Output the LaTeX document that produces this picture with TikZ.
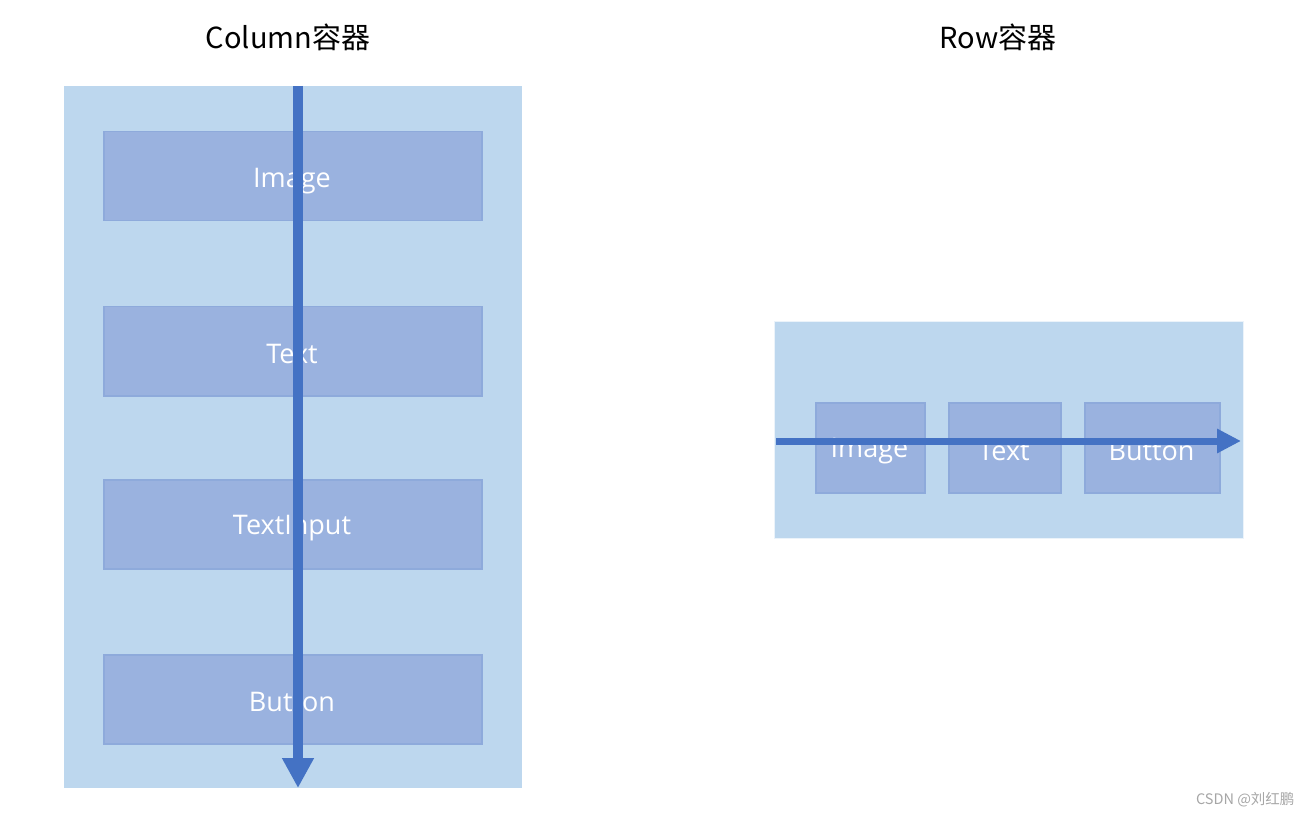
\documentclass[tikz,border=0pt]{standalone}
\usepackage{fontspec}
\setmainfont{Open Sans}
\newfontfamily\cjk{Noto Sans CJK SC}
\usetikzlibrary{arrows.meta}
\definecolor{outerfill}{HTML}{BDD7EE}
\definecolor{innerfill}{HTML}{9AB2DF}
\definecolor{innerline}{HTML}{8EAADB}
\definecolor{arrowc}{HTML}{4472C4}
\definecolor{wm}{HTML}{A6A6A6}
\tikzset{
  outerbox/.style={fill=outerfill, draw=none, anchor=north west, inner sep=0pt},
  itembox/.style={fill=innerfill, draw=innerline, line width=1.5pt, anchor=north west, inner sep=0pt},
  itemlabel/.style={text=white, font=\fontsize{27}{30}\selectfont, inner sep=0pt},
  title/.style={font=\cjk\fontsize{29}{33}\selectfont, text=black},
  flow/.style={draw=arrowc, line width=#1},
}
\begin{document}
\begin{tikzpicture}[x=1pt,y=-1pt]
\useasboundingbox (0,0) rectangle (1312,818);
% titles
\node[title] (tcol) at (288,37) {Column容器};
\node[title] (trow) at (998,37) {Row容器};
% Column container
\node[outerbox, minimum width=458pt, minimum height=702pt] (col) at (64,86) {};
\node[itembox, minimum width=378pt, minimum height=89pt] (c1) at (103,131) {};
\node[itembox, minimum width=378pt, minimum height=89pt] (c2) at (103,306) {};
\node[itembox, minimum width=378pt, minimum height=89pt] (c3) at (103,479) {};
\node[itembox, minimum width=378pt, minimum height=89pt] (c4) at (103,654) {};
\node[itemlabel] (l1) at (292,181) {Image};
\node[itemlabel] (l2) at (292,354) {Text};
\node[itemlabel] (l3) at (292,528) {TextInput};
\node[itemlabel] (l4) at (292,702) {Button};
\coordinate (cs) at (298,86);
\coordinate (ce) at (298,788);
\draw[flow=10pt, -{Triangle[width=30pt,length=30pt]}, arrowc] (cs) -- (ce);
% Row container
\node[outerbox, draw=white!70!outerfill, line width=1.2pt, minimum width=469pt, minimum height=217pt] (row) at (774,321) {};
\node[itembox, minimum width=109pt, minimum height=90pt] (r1) at (815,402) {};
\node[itembox, minimum width=112pt, minimum height=90pt] (r2) at (948,402) {};
\node[itembox, minimum width=135pt, minimum height=90pt] (r3) at (1084,402) {};
\node[itemlabel] (m1) at (869.5,451) {Image};
\node[itemlabel] (m2) at (1004,451) {Text};
\node[itemlabel] (m3) at (1151.5,451) {Button};
\coordinate (rs) at (776,441);
\coordinate (re) at (1241,441);
\draw[flow=7pt, -{Triangle[width=23pt,length=24pt]}, arrowc] (rs) -- (re);
% watermark
\node[font=\cjk\fontsize{14.5}{17}\selectfont, text=wm, anchor=east] (wmk) at (1298,800) {CSDN @刘红鹏};
\end{tikzpicture}
\end{document}
